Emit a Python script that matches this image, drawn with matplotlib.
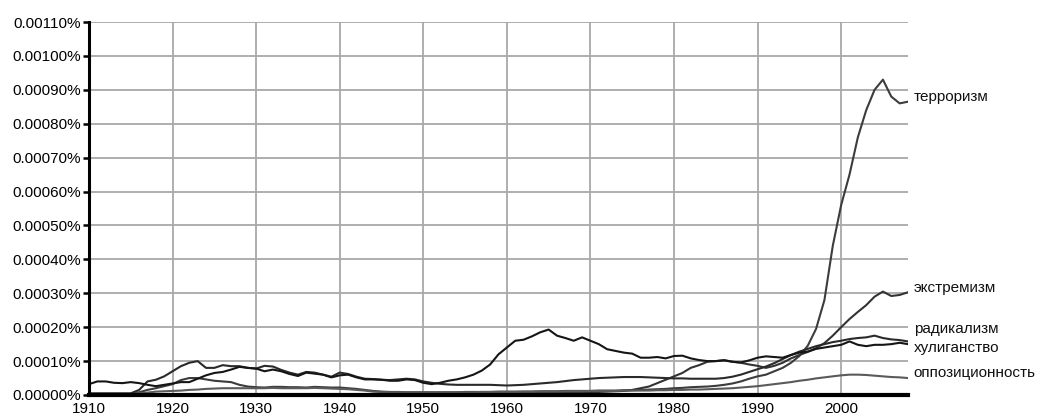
import numpy as np
import matplotlib
matplotlib.use("Agg")
import matplotlib.pyplot as plt
from matplotlib.ticker import FixedLocator, FuncFormatter

plt.rcParams['font.family'] = ['Liberation Sans', 'DejaVu Sans']

# ---- data (values in units of 1e-5 percent) ----
years = list(range(1910, 2009))

hooliganism = [3.2, 4.0, 4.0, 3.6, 3.5, 3.8, 3.5, 3.0, 2.6, 3.0,
               3.4, 3.8, 3.8, 4.8, 5.8, 6.5, 6.8, 7.5, 8.3, 8.0,
               7.8, 7.0, 7.5, 7.0, 6.2, 5.6, 6.6, 6.3, 6.0, 5.2,
               5.8, 6.0, 5.2, 4.6, 4.6, 4.5, 4.2, 4.2, 4.6, 4.4,
               3.6, 3.2, 3.6, 4.2, 4.6, 5.2, 6.0, 7.2, 9.0, 12.0,
               14.0, 16.0, 16.3, 17.3, 18.5, 19.3, 17.5, 16.8, 16.0, 17.0,
               16.0, 15.0, 13.5, 13.0, 12.5, 12.2, 11.0, 11.0, 11.2, 10.8,
               11.5, 11.6, 10.8, 10.3, 10.0, 10.0, 10.2, 9.8, 9.6, 10.2,
               11.0, 11.4, 11.2, 11.0, 11.8, 12.5, 12.8, 13.6, 14.0, 14.4,
               14.8, 15.8, 14.8, 14.4, 14.8, 14.8, 15.0, 15.4, 15.0]

radicalism = [0.5, 0.5, 0.5, 0.5, 0.5, 0.5, 1.5, 4.0, 4.5, 5.5,
              7.0, 8.5, 9.5, 10.0, 8.0, 8.0, 8.8, 8.5, 8.5, 8.0,
              7.8, 8.6, 8.4, 7.4, 6.6, 6.0, 6.8, 6.6, 6.0, 5.4,
              6.6, 6.2, 5.4, 4.8, 4.7, 4.5, 4.4, 4.6, 4.8, 4.6,
              4.0, 3.6, 3.3, 3.1, 3.0, 3.0, 3.0, 3.0, 3.0, 2.9,
              2.8, 2.9, 3.0, 3.2, 3.4, 3.6, 3.8, 4.1, 4.4, 4.6,
              4.8, 5.0, 5.1, 5.2, 5.3, 5.3, 5.3, 5.2, 5.1, 5.0,
              4.9, 4.9, 4.8, 4.8, 4.8, 4.8, 5.0, 5.4, 6.0, 6.8,
              7.6, 8.4, 9.4, 10.6, 11.8, 12.8, 13.6, 14.4, 15.0, 15.6,
              16.0, 16.5, 16.8, 17.0, 17.5, 16.8, 16.4, 16.2, 15.8]

extremism = [0.2, 0.2, 0.2, 0.2, 0.2, 0.2, 0.2, 0.2, 0.2, 0.2,
             0.2, 0.2, 0.2, 0.2, 0.2, 0.2, 0.2, 0.2, 0.2, 0.2,
             0.2, 0.2, 0.2, 0.2, 0.2, 0.2, 0.2, 0.2, 0.2, 0.2,
             0.2, 0.2, 0.2, 0.2, 0.3, 0.3, 0.3, 0.3, 0.3, 0.4,
             0.4, 0.4, 0.5, 0.5, 0.5, 0.5, 0.5, 0.5, 0.5, 0.5,
             0.5, 0.5, 0.5, 0.5, 0.6, 0.6, 0.6, 0.6, 0.7, 0.7,
             0.8, 0.9, 1.0, 1.1, 1.2, 1.5, 2.0, 2.5, 3.5, 4.5,
             5.5, 6.5, 8.0, 8.8, 9.8, 10.0, 10.3, 9.8, 9.5, 9.0,
             8.6, 8.0, 8.6, 9.5, 10.8, 11.8, 12.7, 13.8, 15.3, 17.5,
             20.0, 22.4, 24.5, 26.5, 29.0, 30.5, 29.2, 29.5, 30.3]

terrorism = [0.3, 0.3, 0.3, 0.3, 0.3, 0.3, 0.8, 1.5, 2.0, 2.6,
             3.2, 4.4, 5.0, 5.0, 4.6, 4.2, 4.0, 3.8, 3.0, 2.5,
             2.3, 2.2, 2.4, 2.4, 2.3, 2.3, 2.2, 2.4, 2.3, 2.2,
             2.2, 2.0, 1.8, 1.5, 1.2, 1.0, 0.9, 0.9, 0.8, 0.8,
             0.8, 0.8, 0.8, 0.8, 0.8, 0.9, 0.9, 0.9, 0.9, 1.0,
             1.0, 1.0, 1.0, 1.0, 1.1, 1.1, 1.1, 1.2, 1.2, 1.2,
             1.2, 1.3, 1.3, 1.3, 1.4, 1.4, 1.5, 1.6, 1.7, 1.8,
             2.0, 2.1, 2.3, 2.4, 2.5, 2.7, 3.0, 3.4, 4.0, 4.8,
             5.5, 6.0, 7.0, 8.0, 9.5, 11.5, 14.5, 19.5, 28.0, 44.0,
             56.0, 65.0, 76.0, 84.0, 90.0, 93.0, 88.0, 86.0, 86.5]

opposition = [0.2, 0.2, 0.2, 0.2, 0.2, 0.2, 0.5, 0.7, 1.0, 1.1,
              1.2, 1.3, 1.5, 1.6, 1.8, 1.9, 2.0, 2.0, 2.0, 2.0,
              2.0, 2.0, 2.1, 2.0, 2.0, 2.0, 2.0, 2.1, 2.0, 1.9,
              1.8, 1.7, 1.5, 1.3, 1.0, 0.9, 0.8, 0.8, 0.8, 0.8,
              0.8, 0.8, 0.8, 0.8, 0.8, 0.8, 0.8, 0.9, 0.9, 0.9,
              0.9, 0.9, 1.0, 1.0, 1.0, 1.0, 1.0, 1.1, 1.1, 1.1,
              1.2, 1.2, 1.2, 1.2, 1.3, 1.3, 1.3, 1.3, 1.4, 1.4,
              1.5, 1.5, 1.6, 1.6, 1.7, 1.8, 1.9, 2.0, 2.2, 2.4,
              2.6, 2.9, 3.2, 3.5, 3.8, 4.2, 4.5, 4.9, 5.2, 5.5,
              5.8, 6.0, 6.0, 5.9, 5.7, 5.5, 5.3, 5.2, 5.0]

series_names = ['терроризм', 'экстремизм', 'радикализм', 'хулиганство', 'оппозиционность']
series_values = [terrorism, extremism, radicalism, hooliganism, opposition]
series_colors = ['#3c3c3c', '#333333', '#2a2a2a', '#151515', '#5a5a5a']

y_ticks = [0, 10, 20, 30, 40, 50, 60, 70, 80, 90, 100, 110]
x_ticks = [1910, 1920, 1930, 1940, 1950, 1960, 1970, 1980, 1990, 2000]

W, H = 1039, 417
fig = plt.figure(figsize=(W / 100, H / 100), dpi=100)
ax = fig.add_axes([89 / W, (H - 395) / H, (908 - 89) / W, (395 - 22) / H])

for name, vals, col in zip(series_names, series_values, series_colors):
    ax.plot(years, vals, color=col, lw=1.5, solid_joinstyle='round', zorder=3)

ax.set_xlim(1910, 2008)
ax.set_ylim(0, 110)

ax.yaxis.set_major_locator(FixedLocator(y_ticks))
ax.yaxis.set_major_formatter(FuncFormatter(lambda v, p: f"{v * 1e-5:.5f}%"))
ax.xaxis.set_major_locator(FixedLocator(x_ticks))

ax.grid(True, color='#a8a8a8', lw=1.3, zorder=1)
ax.set_axisbelow(True)
for s in ['top', 'right']:
    ax.spines[s].set_visible(False)
ax.spines['left'].set_linewidth(2.2)
ax.spines['bottom'].set_linewidth(3.0)
ax.spines['left'].set_zorder(4)
ax.spines['bottom'].set_zorder(4)

ax.tick_params(axis='y', length=4.5, width=1.8, pad=1.5, labelsize=11, colors='black')
ax.tick_params(axis='x', length=0, pad=5, labelsize=11, colors='black')

# ---- end labels ----
last = [v[-1] for v in series_values]
pos = [l + 1.4 for l in last]
order = np.argsort(pos)
min_gap = 5.6
placed = [pos[i] for i in order]
for _ in range(50):
    moved = False
    for k in range(1, len(placed)):
        if placed[k] - placed[k - 1] < min_gap:
            c = (placed[k] + placed[k - 1]) / 2
            placed[k - 1] = c - min_gap / 2
            placed[k] = c + min_gap / 2
            moved = True
    if not moved:
        break
final = dict(zip(order, placed))
for i, name in enumerate(series_names):
    ax.annotate(name, xy=(2008, final[i]), xytext=(4, 0), textcoords='offset points',
                va='center', ha='left', fontsize=11, color='#111111',
                annotation_clip=False)

fig.savefig('out.png', dpi=100)
